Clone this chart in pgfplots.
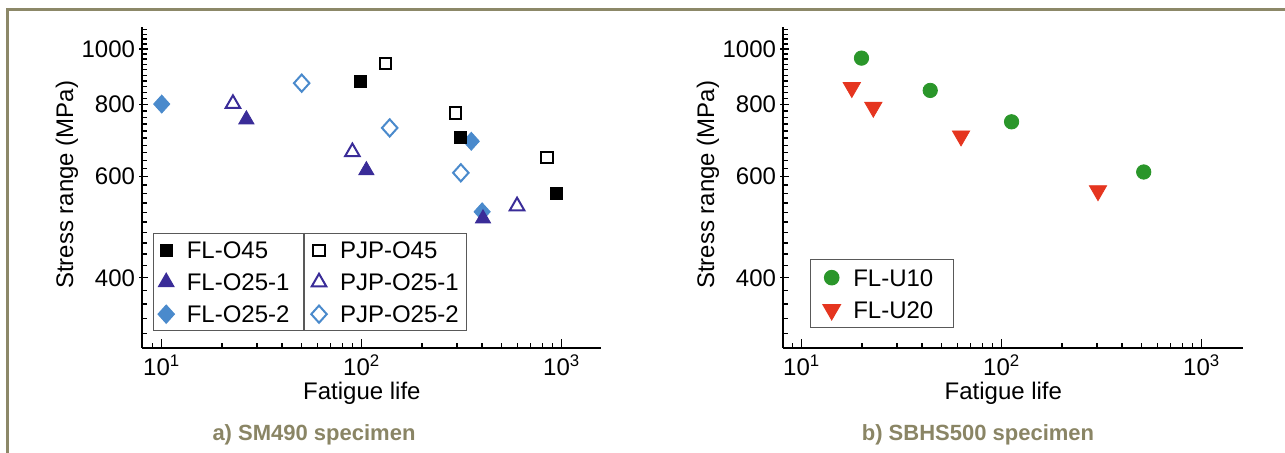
\documentclass[border=0pt]{standalone}
\usepackage{fontspec}
\setmainfont{Liberation Sans}
\usepackage{pgfplots}
\pgfplotsset{compat=1.18}
\definecolor{framecol}{HTML}{8C8868}
\definecolor{capcol}{HTML}{8A8565}
\definecolor{indigo}{HTML}{3A2C98}
\definecolor{lblue}{HTML}{4A8ACC}
\definecolor{grn}{HTML}{2A962A}
\definecolor{rd}{HTML}{E5351F}
\newcommand{\lab}{\fontsize{12bp}{14.4bp}\selectfont}
\newcommand{\capf}{\fontsize{11bp}{13.2bp}\selectfont\bfseries}
\pgfplotsset{
  every axis/.append style={
    scale only axis, height=160.5bp,
    ymin=302, ymax=1092,
    axis lines=left, axis line style={-, line width=0.9bp},
    tick align=inside, major tick length=4.5bp, minor tick length=2.5bp,
    tick style={line width=0.7bp, black},
    major y tick style={xshift=-1.5bp},
    xtick={10,100,1000},
    xticklabels={10\textsuperscript{1},10\textsuperscript{2},10\textsuperscript{3}},
    minor xtick={8,9,20,30,40,50,60,70,80,90,200,300,400,500,600,700,800,900},
    ytick={400,600,800,1000}, yticklabels={400,600,800,1000},
    minor ytick={320,340,...,1080},
    ticklabel style={font=\lab},
    label style={font=\lab},
    xlabel={Fatigue life}, ylabel={Stress range (MPa)},
    xlabel style={at={([yshift=-22.5bp]axis description cs:0.479,0)}, anchor=center},
    ylabel style={at={([xshift=-37.5bp]axis description cs:0,0.508)}, anchor=center},
    legend cell align=left,
  }
}
\begin{document}
\begin{tikzpicture}
\useasboundingbox (0,0) rectangle (642.5bp,226.5bp);
\draw[framecol, line width=1.5bp] (3.5bp,-2bp) -- (3.5bp,221.75bp) -- (645bp,221.75bp);

% ---------------- left panel ----------------
\begin{loglogaxis}[at={(71bp,52.5bp)}, anchor=south west,
  width=229.5bp, xmin=7.97, xmax=1572,
  legend columns=2,
  legend style={at={(axis description cs:0.024,0.358)}, anchor=north west,
    draw=black!65, line width=0.6bp, inner xsep=0pt, inner ysep=0.25bp, font=\lab,
    nodes={inner xsep=4bp, inner ysep=3.25bp, text height=9bp, text depth=0.5bp, align=left},
    /tikz/every even column/.append style={column sep=4.25bp},
    column 2/.style={nodes={text width=55.5bp}},
    column 4/.style={nodes={text width=61.75bp}}},
  legend image code/.code={\path (0bp,0bp) (12bp,0bp);
    \draw[mark repeat=2,mark phase=2,#1] plot coordinates {(0bp,0bp)(6bp,0bp)(12bp,0bp)};},
]
\addplot[only marks, mark=diamond*, mark size=4.5bp, color=lblue, mark options={xscale=1.2}, forget plot]
  coordinates {(10,802) (353,691) (400,521)};
\addplot[only marks, mark=square*, mark size=3bp, black]
  coordinates {(99,878) (312,702) (944,561)};
\addlegendentry{FL-O45}
\addplot[only marks, mark=square, mark size=2.8bp, black, line width=1bp]
  coordinates {(132,944) (294,774) (845,648)};
\addlegendentry{PJP-O45}
\addplot[only marks, mark=triangle*, mark size=4.4bp, color=indigo]
  coordinates {(26.5,754) (105.5,615) (404,507)};
\addlegendentry{FL-O25-1}
\addplot[only marks, mark=triangle, mark size=4.2bp, color=indigo, line width=1bp]
  coordinates {(22.7,803) (89.8,662) (598,533)};
\addlegendentry{PJP-O25-1}
\addlegendimage{only marks, mark=diamond*, mark size=4.5bp, color=lblue, mark options={xscale=1.2}}
\addlegendentry{FL-O25-2}
\addplot[only marks, mark=diamond, mark size=4.3bp, color=lblue, line width=1bp, mark options={xscale=1.2}]
  coordinates {(50.1,872) (138,729) (313,609)};
\addlegendentry{PJP-O25-2}
\end{loglogaxis}
\draw[black!65, line width=0.6bp] (71bp+5.5bp+75.5bp, 52.5bp+57.5bp) -- ++(0,-48.5bp);

% ---------------- right panel ----------------
\begin{loglogaxis}[at={(391.5bp,52.5bp)}, anchor=south west,
  width=230bp, xmin=8.06, xmax=1609,
  legend style={at={(axis description cs:0.0576,0.277)}, anchor=north west,
    draw=black!65, line width=0.6bp, inner xsep=0pt, inner ysep=1bp, font=\lab,
    nodes={inner xsep=4bp, inner ysep=3.25bp, text height=9bp, text depth=0.5bp, text width=46bp, align=left}},
  legend image code/.code={\path (0bp,0bp) (17bp,0bp);
    \draw[mark repeat=2,mark phase=2,#1] plot coordinates {(0bp,0bp)(10.5bp,0bp)(17bp,0bp)};},
]
\addplot[only marks, mark=*, mark size=3.6bp, color=grn]
  coordinates {(19.9,964) (43.9,847) (112,747) (513,611)};
\addlegendentry{FL-U10}
\addplot[only marks, mark=triangle*, mark size=5bp, color=rd, mark options={rotate=180}]
  coordinates {(17.8,857) (22.8,792) (62.6,706) (303,567)};
\addlegendentry{FL-U20}
\end{loglogaxis}

\node[font=\capf, text=capcol] at (157bp,9bp) {a) SM490 specimen};
\node[font=\capf, text=capcol] at (489bp,9bp) {b) SBHS500 specimen};
\end{tikzpicture}
\end{document}
